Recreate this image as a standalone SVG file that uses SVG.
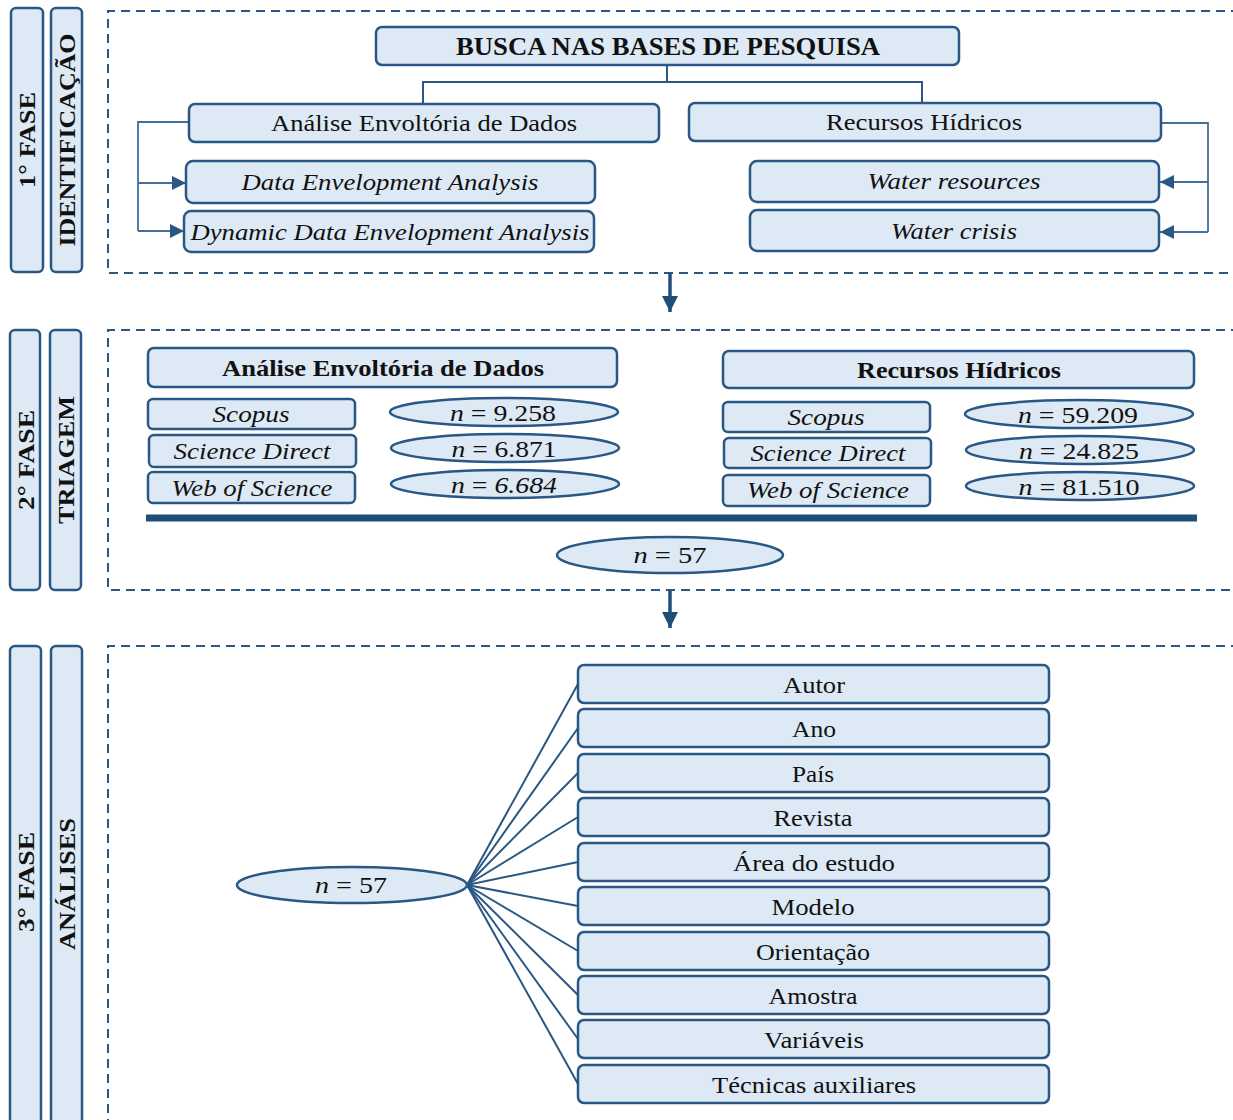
<svg xmlns="http://www.w3.org/2000/svg" width="1233" height="1120" viewBox="0 0 1233 1120">
<style>
.box{fill:#DDE9F5;stroke:#2A5783;stroke-width:2.5}
.pill{fill:#DDE9F5;stroke:#2A5783;stroke-width:2.5}
.dash{fill:none;stroke:#2A5783;stroke-width:2;stroke-dasharray:9 6}
.con{fill:none;stroke:#2A5783;stroke-width:2}
.lcon{fill:none;stroke:#41719C;stroke-width:1.8}
text{font-family:"Liberation Serif","Times New Roman",serif;fill:#111;text-anchor:middle}
.t{font-family:"Liberation Serif","Times New Roman",serif;font-size:24px}
.tb{font-family:"Liberation Serif","Times New Roman",serif;font-size:24px;font-weight:bold}
.ti{font-family:"Liberation Serif","Times New Roman",serif;font-size:24px;font-style:italic}
.vt{font-family:"Liberation Serif","Times New Roman",serif;font-size:24px;font-weight:bold}
</style>
<defs>
<marker id="ah" viewBox="0 0 10 10" refX="10" refY="5" markerWidth="14" markerHeight="15" markerUnits="userSpaceOnUse" orient="auto">
<path d="M0,0 L10,5 L0,10 z" fill="#2A5783"/>
</marker>
<marker id="ahd" viewBox="0 0 10 10" refX="10" refY="5" markerWidth="16" markerHeight="16" markerUnits="userSpaceOnUse" orient="auto">
<path d="M0,0 L10,5 L0,10 z" fill="#1F4E79"/>
</marker>
</defs>

<g id="frames">
<path class="dash" d="M1240,11 H108 V273 H1240"/>
<path class="dash" d="M1240,330 H108 V590 H1240"/>
<path class="dash" d="M1240,646 H108 V1125"/>
</g>

<g id="phase-labels">
<g id="fase1"><rect class="pill" x="11" y="8" width="32" height="264" rx="5"/><text class="vt" transform="translate(35,140) rotate(-90)" textLength="96" lengthAdjust="spacingAndGlyphs">1° FASE</text></g>
<g id="identificacao"><rect class="pill" x="51" y="8" width="31" height="264" rx="5"/><text class="vt" transform="translate(75,140) rotate(-90)" textLength="213" lengthAdjust="spacingAndGlyphs">IDENTIFICAÇÃO</text></g>
<g id="fase2"><rect class="pill" x="10" y="330" width="30" height="260" rx="5"/><text class="vt" transform="translate(34,460) rotate(-90)" textLength="100" lengthAdjust="spacingAndGlyphs">2° FASE</text></g>
<g id="triagem"><rect class="pill" x="50" y="330" width="31" height="260" rx="5"/><text class="vt" transform="translate(74,460) rotate(-90)" textLength="128" lengthAdjust="spacingAndGlyphs">TRIAGEM</text></g>
<g id="fase3"><rect class="pill" x="10" y="646" width="31" height="490" rx="5"/><text class="vt" transform="translate(34,882) rotate(-90)" textLength="100" lengthAdjust="spacingAndGlyphs">3° FASE</text></g>
<g id="analises"><rect class="pill" x="51" y="646" width="31" height="490" rx="5"/><text class="vt" transform="translate(75,884) rotate(-90)" textLength="132" lengthAdjust="spacingAndGlyphs">ANÁLISES</text></g>
</g>

<g id="connectors">
<path class="con" d="M667,64 V82 M423,82 H922 M423,81 V104 M922,81 V103"/>
<path class="lcon" d="M189,122 H138 V231" />
<path class="lcon" d="M138,183 H186" marker-end="url(#ah)"/>
<path class="lcon" d="M138,231 H184" marker-end="url(#ah)"/>
<path class="lcon" d="M1161,123 H1208 V232"/>
<path class="lcon" d="M1208,182 H1160" marker-end="url(#ah)"/>
<path class="lcon" d="M1208,232 H1160" marker-end="url(#ah)"/>
<path d="M670,273 V312" stroke="#1F4E79" stroke-width="3.5" fill="none" marker-end="url(#ahd)"/>
<path d="M670,590 V628" stroke="#1F4E79" stroke-width="3.5" fill="none" marker-end="url(#ahd)"/>
<line x1="146" y1="518" x2="1197" y2="518" stroke="#1F4E79" stroke-width="7"/>
<g class="con">
<path d="M467,885 L578,684"/>
<path d="M467,885 L578,728"/>
<path d="M467,885 L578,773"/>
<path d="M467,885 L578,817"/>
<path d="M467,885 L578,862"/>
<path d="M467,885 L578,906"/>
<path d="M467,885 L578,951"/>
<path d="M467,885 L578,995"/>
<path d="M467,885 L578,1039"/>
<path d="M467,885 L578,1084"/>
</g>
</g>

<g id="busca"><rect class="box" x="376" y="27" width="583" height="38" rx="6"/><text class="tb" x="668" y="55" style="font-size:25px" textLength="424" lengthAdjust="spacingAndGlyphs">BUSCA NAS BASES DE PESQUISA</text></g>
<g id="aed1"><rect class="box" x="189" y="104" width="470" height="38" rx="6"/><text class="t" x="424" y="131" textLength="306" lengthAdjust="spacingAndGlyphs">Análise  Envoltória de Dados</text></g>
<g id="rh1"><rect class="box" x="689" y="103" width="472" height="38" rx="6"/><text class="t" x="924" y="130" textLength="196" lengthAdjust="spacingAndGlyphs">Recursos Hídricos</text></g>
<g id="dea"><rect class="box" x="186" y="161" width="409" height="42" rx="7"/><text class="ti" x="390" y="190" textLength="297" lengthAdjust="spacingAndGlyphs">Data Envelopment Analysis</text></g>
<g id="ddea"><rect class="box" x="184" y="211" width="410" height="41" rx="7"/><text class="ti" x="390" y="240" textLength="399" lengthAdjust="spacingAndGlyphs">Dynamic Data Envelopment Analysis</text></g>
<g id="wr"><rect class="box" x="750" y="161" width="409" height="41" rx="7"/><text class="ti" x="954" y="189" textLength="173" lengthAdjust="spacingAndGlyphs">Water resources</text></g>
<g id="wc"><rect class="box" x="750" y="210" width="409" height="41" rx="7"/><text class="ti" x="954" y="239" textLength="126" lengthAdjust="spacingAndGlyphs">Water crisis</text></g>

<g id="aed2"><rect class="box" x="148" y="348" width="469" height="39" rx="6"/><text class="tb" x="383" y="376" textLength="322" lengthAdjust="spacingAndGlyphs">Análise Envoltória de Dados</text></g>
<g id="rh2"><rect class="box" x="723" y="351" width="471" height="37" rx="6"/><text class="tb" x="959" y="378" textLength="204" lengthAdjust="spacingAndGlyphs">Recursos Hídricos</text></g>
<g id="scopus1"><rect class="box" x="148" y="399" width="207" height="30" rx="5"/><text class="ti" x="251" y="422" textLength="77" lengthAdjust="spacingAndGlyphs">Scopus</text></g>
<g id="sd1"><rect class="box" x="149" y="435" width="207" height="32" rx="5"/><text class="ti" x="252" y="459" textLength="157" lengthAdjust="spacingAndGlyphs">Science Direct</text></g>
<g id="wos1"><rect class="box" x="148" y="472" width="207" height="31" rx="5"/><text class="ti" x="252" y="496" textLength="161" lengthAdjust="spacingAndGlyphs">Web of Science</text></g>
<g id="n1"><ellipse class="box" cx="504" cy="412" rx="114" ry="14"/><text class="t" x="503" y="421" textLength="106" lengthAdjust="spacingAndGlyphs"><tspan font-style="italic">n</tspan> = 9.258</text></g>
<g id="n2"><ellipse class="box" cx="505" cy="448" rx="114" ry="14"/><text class="t" x="504" y="457" textLength="105" lengthAdjust="spacingAndGlyphs"><tspan font-style="italic">n</tspan> = 6.871</text></g>
<g id="n3"><ellipse class="box" cx="505" cy="484" rx="114" ry="14"/><text class="t" x="504" y="493" textLength="106" lengthAdjust="spacingAndGlyphs"><tspan font-style="italic">n</tspan> = <tspan font-style="italic">6.684</tspan></text></g>
<g id="scopus2"><rect class="box" x="723" y="402" width="207" height="30" rx="5"/><text class="ti" x="826" y="425" textLength="77" lengthAdjust="spacingAndGlyphs">Scopus</text></g>
<g id="sd2"><rect class="box" x="724" y="438" width="207" height="30" rx="5"/><text class="ti" x="828" y="461" textLength="155" lengthAdjust="spacingAndGlyphs">Science Direct</text></g>
<g id="wos2"><rect class="box" x="723" y="475" width="207" height="31" rx="5"/><text class="ti" x="828" y="498" textLength="162" lengthAdjust="spacingAndGlyphs">Web of Science</text></g>
<g id="n4"><ellipse class="box" cx="1079" cy="414" rx="114" ry="14"/><text class="t" x="1078" y="423" textLength="120" lengthAdjust="spacingAndGlyphs"><tspan font-style="italic">n</tspan> = 59.209</text></g>
<g id="n5"><ellipse class="box" cx="1080" cy="450" rx="114" ry="14"/><text class="t" x="1079" y="459" textLength="120" lengthAdjust="spacingAndGlyphs"><tspan font-style="italic">n</tspan> = 24.825</text></g>
<g id="n6"><ellipse class="box" cx="1080" cy="486" rx="114" ry="14"/><text class="t" x="1079" y="495" textLength="121" lengthAdjust="spacingAndGlyphs"><tspan font-style="italic">n</tspan> = 81.510</text></g>
<g id="n57a"><ellipse class="box" cx="670" cy="555" rx="113" ry="18"/><text class="t" x="670" y="563" textLength="73" lengthAdjust="spacingAndGlyphs"><tspan font-style="italic">n</tspan> = 57</text></g>

<g id="n57b"><ellipse class="box" cx="352" cy="885" rx="115" ry="18"/><text class="t" x="351" y="893" textLength="72" lengthAdjust="spacingAndGlyphs"><tspan font-style="italic">n</tspan> = 57</text></g>
<g id="autor"><rect class="box" x="578" y="665" width="471" height="38" rx="6"/><text class="t" x="814" y="693" textLength="62" lengthAdjust="spacingAndGlyphs">Autor</text></g>
<g id="ano"><rect class="box" x="578" y="709" width="471" height="38" rx="6"/><text class="t" x="814" y="737" textLength="44" lengthAdjust="spacingAndGlyphs">Ano</text></g>
<g id="pais"><rect class="box" x="578" y="754" width="471" height="38" rx="6"/><text class="t" x="813" y="782" textLength="42" lengthAdjust="spacingAndGlyphs">País</text></g>
<g id="revista"><rect class="box" x="578" y="798" width="471" height="38" rx="6"/><text class="t" x="813" y="826" textLength="79" lengthAdjust="spacingAndGlyphs">Revista</text></g>
<g id="area"><rect class="box" x="578" y="843" width="471" height="38" rx="6"/><text class="t" x="814" y="871" textLength="162" lengthAdjust="spacingAndGlyphs">Área do estudo</text></g>
<g id="modelo"><rect class="box" x="578" y="887" width="471" height="38" rx="6"/><text class="t" x="813" y="915" textLength="83" lengthAdjust="spacingAndGlyphs">Modelo</text></g>
<g id="orientacao"><rect class="box" x="578" y="932" width="471" height="38" rx="6"/><text class="t" x="813" y="960" textLength="114" lengthAdjust="spacingAndGlyphs">Orientação</text></g>
<g id="amostra"><rect class="box" x="578" y="976" width="471" height="38" rx="6"/><text class="t" x="813" y="1004" textLength="89" lengthAdjust="spacingAndGlyphs">Amostra</text></g>
<g id="variaveis"><rect class="box" x="578" y="1020" width="471" height="38" rx="6"/><text class="t" x="814" y="1048" textLength="100" lengthAdjust="spacingAndGlyphs">Variáveis</text></g>
<g id="tecnicas"><rect class="box" x="578" y="1065" width="471" height="38" rx="6"/><text class="t" x="814" y="1093" textLength="204" lengthAdjust="spacingAndGlyphs">Técnicas  auxiliares</text></g>
</svg>
